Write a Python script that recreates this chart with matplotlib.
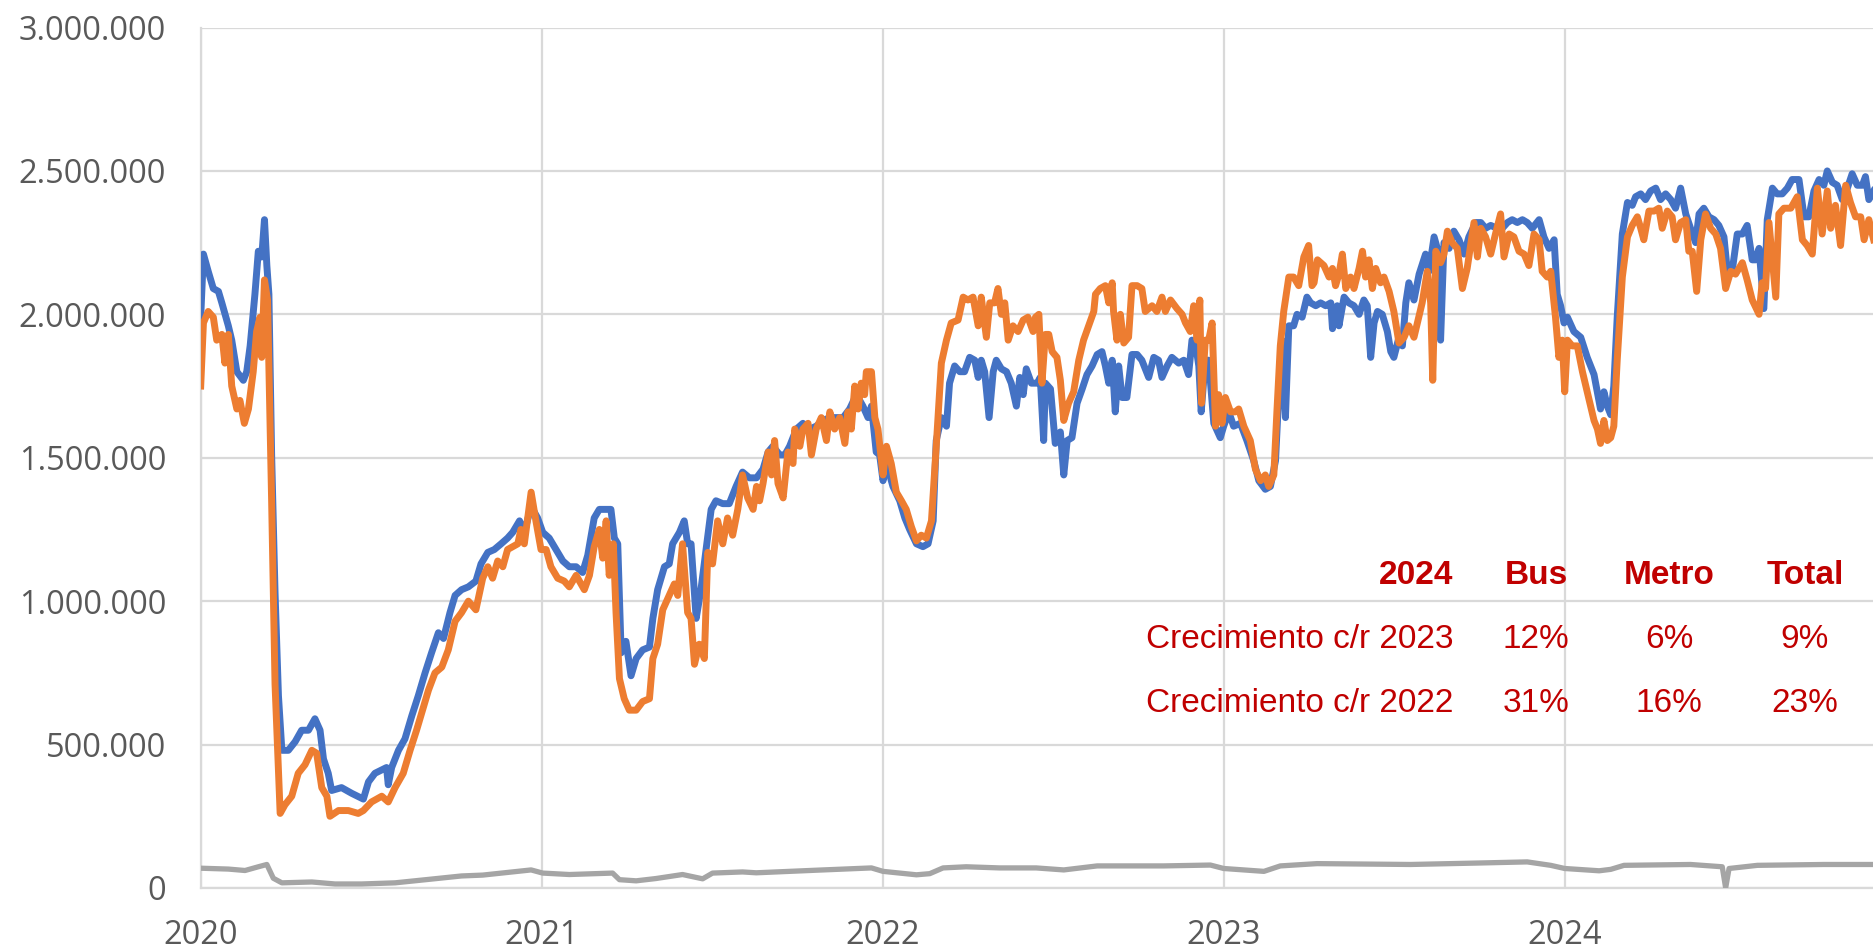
import numpy as np
import matplotlib
matplotlib.use("Agg")
import matplotlib.pyplot as plt
from matplotlib.ticker import FuncFormatter, MultipleLocator

# ---------------------------------------------------------------------------
# Datos. t = año decimal, valores en miles de pasajeros
bus_t = [2020.000, 2020.008, 2020.022, 2020.037, 2020.052, 2020.062, 2020.081, 2020.091, 2020.106, 2020.125,
         2020.135, 2020.145, 2020.159, 2020.169, 2020.179, 2020.187, 2020.194, 2020.200, 2020.208, 2020.218,
         2020.228, 2020.238, 2020.257, 2020.277, 2020.296, 2020.316, 2020.335, 2020.350, 2020.360, 2020.374,
         2020.384, 2020.413, 2020.443, 2020.477, 2020.492, 2020.511, 2020.545, 2020.550, 2020.560, 2020.580,
         2020.599, 2020.619, 2020.638, 2020.658, 2020.677, 2020.697, 2020.712, 2020.731, 2020.746, 2020.765,
         2020.785, 2020.807, 2020.822, 2020.842, 2020.861, 2020.881, 2020.900, 2020.915, 2020.935, 2020.949,
         2020.969, 2020.988, 2021.003, 2021.022, 2021.042, 2021.062, 2021.081, 2021.101, 2021.120, 2021.135,
         2021.154, 2021.169, 2021.189, 2021.203, 2021.213, 2021.223, 2021.233, 2021.247, 2021.262, 2021.277,
         2021.296, 2021.316, 2021.326, 2021.340, 2021.360, 2021.374, 2021.384, 2021.404, 2021.418, 2021.428,
         2021.438, 2021.453, 2021.467, 2021.482, 2021.497, 2021.511, 2021.531, 2021.550, 2021.570, 2021.589,
         2021.609, 2021.630, 2021.649, 2021.664, 2021.678, 2021.698, 2021.713, 2021.727, 2021.747, 2021.766,
         2021.786, 2021.805, 2021.825, 2021.845, 2021.864, 2021.884, 2021.903, 2021.923, 2021.942, 2021.957,
         2021.967, 2021.981, 2021.991, 2022.001, 2022.011, 2022.030, 2022.050, 2022.065, 2022.079, 2022.099,
         2022.118, 2022.133, 2022.148, 2022.157, 2022.172, 2022.187, 2022.196, 2022.211, 2022.226, 2022.240,
         2022.255, 2022.270, 2022.280, 2022.289, 2022.299, 2022.312, 2022.324, 2022.333, 2022.348, 2022.363,
         2022.377, 2022.392, 2022.402, 2022.412, 2022.421, 2022.436, 2022.453, 2022.462, 2022.472, 2022.477,
         2022.492, 2022.506, 2022.521, 2022.531, 2022.541, 2022.555, 2022.570, 2022.585, 2022.599, 2022.614,
         2022.629, 2022.643, 2022.653, 2022.663, 2022.673, 2022.682, 2022.692, 2022.702, 2022.716, 2022.731,
         2022.746, 2022.760, 2022.780, 2022.795, 2022.809, 2022.819, 2022.834, 2022.848, 2022.868, 2022.883,
         2022.897, 2022.907, 2022.917, 2022.927, 2022.934, 2022.946, 2022.956, 2022.971, 2022.990, 2023.000,
         2023.015, 2023.029, 2023.049, 2023.068, 2023.088, 2023.103, 2023.122, 2023.137, 2023.152, 2023.161,
         2023.171, 2023.181, 2023.191, 2023.205, 2023.215, 2023.230, 2023.244, 2023.255, 2023.270, 2023.284,
         2023.299, 2023.314, 2023.319, 2023.333, 2023.338, 2023.353, 2023.367, 2023.382, 2023.397, 2023.411,
         2023.421, 2023.431, 2023.441, 2023.451, 2023.465, 2023.480, 2023.490, 2023.499, 2023.514, 2023.524,
         2023.534, 2023.543, 2023.558, 2023.573, 2023.592, 2023.602, 2023.617, 2023.631, 2023.636, 2023.646,
         2023.661, 2023.675, 2023.690, 2023.705, 2023.719, 2023.739, 2023.754, 2023.768, 2023.783, 2023.802,
         2023.817, 2023.832, 2023.846, 2023.861, 2023.876, 2023.890, 2023.905, 2023.925, 2023.939, 2023.954,
         2023.969, 2023.978, 2023.988, 2023.998, 2024.008, 2024.027, 2024.047, 2024.066, 2024.086, 2024.105,
         2024.115, 2024.125, 2024.135, 2024.144, 2024.154, 2024.169, 2024.184, 2024.198, 2024.208, 2024.223,
         2024.237, 2024.252, 2024.267, 2024.281, 2024.296, 2024.311, 2024.325, 2024.340, 2024.355, 2024.369,
         2024.384, 2024.394, 2024.408, 2024.423, 2024.438, 2024.452, 2024.467, 2024.477, 2024.491, 2024.506,
         2024.521, 2024.535, 2024.550, 2024.560, 2024.570, 2024.584, 2024.594, 2024.609, 2024.623, 2024.638,
         2024.653, 2024.667, 2024.687, 2024.702, 2024.716, 2024.731, 2024.746, 2024.760, 2024.770, 2024.785,
         2024.799, 2024.814, 2024.829, 2024.843, 2024.858, 2024.873, 2024.882, 2024.892, 2024.906]
bus_v = [1990, 2210, 2150, 2090, 2080, 2040, 1960, 1910, 1800, 1770,
         1800, 1890, 2070, 2220, 2200, 2330, 2170, 2070, 1510, 1030,
         670, 480, 480, 510, 550, 550, 590, 550, 450, 400,
         340, 350, 330, 310, 370, 400, 420, 360, 420, 480,
         520, 600, 670, 750, 820, 890, 870, 960, 1020, 1040,
         1050, 1070, 1130, 1170, 1180, 1200, 1220, 1240, 1280, 1240,
         1330, 1290, 1240, 1220, 1180, 1140, 1120, 1120, 1100, 1160,
         1290, 1320, 1320, 1320, 1220, 1200, 820, 860, 740, 800,
         830, 840, 940, 1040, 1120, 1130, 1200, 1240, 1280, 1200,
         1200, 940, 1040, 1180, 1320, 1350, 1340, 1340, 1400, 1450,
         1430, 1430, 1460, 1520, 1540, 1510, 1510, 1540, 1600, 1620,
         1600, 1610, 1630, 1640, 1640, 1640, 1670, 1720, 1680, 1640,
         1680, 1520, 1510, 1420, 1480, 1400, 1350, 1290, 1250, 1200,
         1190, 1200, 1280, 1560, 1640, 1610, 1760, 1820, 1800, 1800,
         1850, 1840, 1780, 1840, 1800, 1640, 1800, 1840, 1810, 1800,
         1760, 1680, 1780, 1720, 1810, 1760, 1760, 1780, 1560, 1760,
         1740, 1550, 1590, 1440, 1560, 1570, 1690, 1740, 1790, 1820,
         1860, 1870, 1820, 1760, 1840, 1660, 1820, 1710, 1710, 1860,
         1860, 1840, 1780, 1850, 1840, 1780, 1820, 1850, 1830, 1840,
         1790, 1910, 1900, 1820, 1660, 1840, 1840, 1620, 1570, 1610,
         1660, 1610, 1620, 1560, 1490, 1420, 1390, 1400, 1490, 1710,
         1910, 1640, 1960, 1960, 2000, 1990, 2060, 2040, 2030, 2040,
         2030, 2040, 1950, 2030, 1960, 2060, 2040, 2030, 2000, 2050,
         2030, 1850, 1970, 2010, 2000, 1940, 1870, 1850, 1920, 1890,
         2040, 2110, 2050, 2140, 2210, 2150, 2270, 2210, 1910, 2250,
         2230, 2290, 2260, 2210, 2270, 2320, 2320, 2300, 2310, 2300,
         2300, 2320, 2330, 2320, 2330, 2320, 2300, 2330, 2270, 2230,
         2260, 2070, 2030, 1970, 1990, 1940, 1920, 1850, 1790, 1670,
         1730, 1680, 1650, 1750, 1990, 2280, 2390, 2380, 2410, 2420,
         2400, 2430, 2440, 2400, 2420, 2400, 2370, 2440, 2350, 2300,
         2250, 2350, 2370, 2340, 2330, 2310, 2270, 2150, 2150, 2280,
         2280, 2310, 2190, 2190, 2230, 2020, 2330, 2440, 2420, 2420,
         2440, 2470, 2470, 2340, 2340, 2430, 2470, 2450, 2500, 2460,
         2450, 2400, 2440, 2490, 2450, 2450, 2480, 2400, 2430]

metro_t = [2020.000, 2020.008, 2020.022, 2020.037, 2020.047, 2020.062, 2020.071, 2020.081, 2020.091, 2020.106,
           2020.115, 2020.128, 2020.140, 2020.154, 2020.164, 2020.174, 2020.179, 2020.187, 2020.196, 2020.208,
           2020.218, 2020.233, 2020.247, 2020.267, 2020.286, 2020.306, 2020.326, 2020.340, 2020.355, 2020.370,
           2020.379, 2020.404, 2020.433, 2020.462, 2020.477, 2020.501, 2020.531, 2020.550, 2020.570, 2020.594,
           2020.614, 2020.633, 2020.648, 2020.668, 2020.687, 2020.707, 2020.726, 2020.746, 2020.765, 2020.785,
           2020.807, 2020.827, 2020.842, 2020.856, 2020.871, 2020.886, 2020.900, 2020.915, 2020.930, 2020.939,
           2020.949, 2020.969, 2020.983, 2020.998, 2021.013, 2021.027, 2021.047, 2021.066, 2021.081, 2021.101,
           2021.125, 2021.140, 2021.154, 2021.169, 2021.179, 2021.189, 2021.198, 2021.210, 2021.218, 2021.228,
           2021.242, 2021.257, 2021.277, 2021.296, 2021.316, 2021.326, 2021.340, 2021.355, 2021.374, 2021.389,
           2021.399, 2021.413, 2021.428, 2021.438, 2021.448, 2021.462, 2021.477, 2021.487, 2021.501, 2021.516,
           2021.531, 2021.545, 2021.560, 2021.575, 2021.589, 2021.604, 2021.620, 2021.630, 2021.639, 2021.649,
           2021.664, 2021.674, 2021.683, 2021.693, 2021.708, 2021.722, 2021.737, 2021.742, 2021.757, 2021.766,
           2021.781, 2021.791, 2021.805, 2021.820, 2021.835, 2021.845, 2021.859, 2021.874, 2021.889, 2021.898,
           2021.908, 2021.918, 2021.928, 2021.937, 2021.947, 2021.952, 2021.967, 2021.977, 2021.986, 2022.001,
           2022.011, 2022.025, 2022.040, 2022.055, 2022.069, 2022.084, 2022.099, 2022.113, 2022.128, 2022.143,
           2022.157, 2022.172, 2022.187, 2022.201, 2022.221, 2022.236, 2022.250, 2022.265, 2022.280, 2022.289,
           2022.304, 2022.314, 2022.328, 2022.338, 2022.348, 2022.358, 2022.368, 2022.382, 2022.397, 2022.412,
           2022.426, 2022.441, 2022.448, 2022.458, 2022.467, 2022.477, 2022.487, 2022.497, 2022.511, 2022.521,
           2022.531, 2022.545, 2022.560, 2022.575, 2022.589, 2022.604, 2022.619, 2022.624, 2022.638, 2022.653,
           2022.663, 2022.673, 2022.677, 2022.687, 2022.697, 2022.707, 2022.721, 2022.731, 2022.746, 2022.760,
           2022.770, 2022.790, 2022.804, 2022.819, 2022.829, 2022.844, 2022.863, 2022.878, 2022.888, 2022.902,
           2022.912, 2022.922, 2022.930, 2022.935, 2022.946, 2022.956, 2022.966, 2022.976, 2022.985, 2022.995,
           2023.005, 2023.020, 2023.034, 2023.044, 2023.059, 2023.078, 2023.093, 2023.108, 2023.122, 2023.132,
           2023.147, 2023.156, 2023.166, 2023.176, 2023.191, 2023.205, 2023.220, 2023.235, 2023.249, 2023.259,
           2023.265, 2023.275, 2023.294, 2023.309, 2023.319, 2023.328, 2023.338, 2023.348, 2023.358, 2023.372,
           2023.382, 2023.397, 2023.407, 2023.416, 2023.426, 2023.436, 2023.446, 2023.460, 2023.470, 2023.485,
           2023.499, 2023.514, 2023.529, 2023.543, 2023.558, 2023.568, 2023.582, 2023.597, 2023.607, 2023.613,
           2023.622, 2023.636, 2023.646, 2023.656, 2023.670, 2023.685, 2023.700, 2023.714, 2023.734, 2023.744,
           2023.754, 2023.768, 2023.783, 2023.797, 2023.812, 2023.822, 2023.837, 2023.851, 2023.866, 2023.881,
           2023.895, 2023.910, 2023.925, 2023.934, 2023.949, 2023.959, 2023.973, 2023.983, 2023.993, 2024.000,
           2024.008, 2024.022, 2024.037, 2024.052, 2024.066, 2024.086, 2024.096, 2024.105, 2024.115, 2024.125,
           2024.135, 2024.144, 2024.154, 2024.169, 2024.184, 2024.198, 2024.213, 2024.223, 2024.232, 2024.247,
           2024.262, 2024.276, 2024.286, 2024.301, 2024.315, 2024.325, 2024.340, 2024.355, 2024.364, 2024.374,
           2024.387, 2024.399, 2024.413, 2024.428, 2024.443, 2024.457, 2024.472, 2024.487, 2024.501, 2024.521,
           2024.535, 2024.550, 2024.570, 2024.579, 2024.589, 2024.599, 2024.619, 2024.628, 2024.643, 2024.663,
           2024.682, 2024.697, 2024.711, 2024.726, 2024.741, 2024.755, 2024.770, 2024.780, 2024.794, 2024.809,
           2024.824, 2024.838, 2024.853, 2024.868, 2024.878, 2024.892, 2024.906]
metro_v = [1750, 1970, 2010, 1990, 1910, 1930, 1830, 1930, 1750, 1670,
           1700, 1620, 1670, 1800, 1940, 1990, 1850, 2120, 2050, 1350,
           710, 260, 290, 320, 400, 430, 480, 470, 350, 320,
           250, 270, 270, 260, 270, 300, 320, 300, 350, 400,
           480, 550, 610, 690, 750, 770, 830, 930, 960, 1000,
           970, 1080, 1120, 1080, 1140, 1120, 1180, 1190, 1200, 1250,
           1200, 1380, 1280, 1180, 1180, 1120, 1080, 1070, 1050, 1090,
           1040, 1090, 1190, 1250, 1150, 1280, 1090, 1200, 960, 730,
           660, 620, 620, 650, 660, 800, 850, 970, 1020, 1060,
           1020, 1200, 960, 940, 780, 850, 800, 1170, 1130, 1280,
           1200, 1290, 1230, 1320, 1440, 1360, 1320, 1400, 1350, 1410,
           1520, 1440, 1560, 1410, 1360, 1520, 1480, 1600, 1540, 1600,
           1620, 1510, 1600, 1640, 1560, 1660, 1600, 1640, 1550, 1660,
           1600, 1750, 1670, 1760, 1720, 1800, 1800, 1640, 1600, 1440,
           1540, 1480, 1380, 1350, 1320, 1260, 1210, 1230, 1220, 1280,
           1540, 1830, 1910, 1970, 1980, 2060, 2050, 2060, 1960, 2060,
           1920, 2040, 2040, 2090, 2000, 2040, 1910, 1960, 1940, 1980,
           1990, 1940, 1990, 2000, 1760, 1930, 1930, 1870, 1850, 1770,
           1630, 1690, 1730, 1840, 1910, 1960, 2010, 2070, 2090, 2100,
           2040, 2110, 2010, 1910, 2000, 1900, 1920, 2100, 2100, 2090,
           2010, 2030, 2010, 2060, 2010, 2050, 2020, 2000, 1970, 1940,
           2030, 1910, 2050, 1690, 1910, 1910, 1970, 1610, 1720, 1620,
           1710, 1660, 1660, 1670, 1610, 1560, 1460, 1420, 1440, 1400,
           1440, 1660, 1890, 2010, 2130, 2130, 2100, 2200, 2240, 2100,
           2110, 2190, 2170, 2130, 2160, 2100, 2140, 2210, 2090, 2130,
           2090, 2160, 2220, 2130, 2190, 2090, 2160, 2110, 2130, 2080,
           2010, 1900, 1920, 1960, 1920, 1970, 2040, 2150, 2040, 1770,
           2220, 2180, 2210, 2290, 2250, 2230, 2090, 2160, 2320, 2200,
           2300, 2270, 2210, 2280, 2350, 2200, 2280, 2270, 2220, 2210,
           2170, 2280, 2260, 2150, 2130, 2150, 1990, 1850, 1910, 1730,
           1910, 1890, 1890, 1800, 1730, 1630, 1600, 1550, 1630, 1560,
           1570, 1610, 1840, 2130, 2270, 2310, 2340, 2300, 2260, 2360,
           2360, 2370, 2300, 2360, 2340, 2260, 2320, 2330, 2220, 2220,
           2080, 2260, 2350, 2300, 2280, 2230, 2090, 2150, 2140, 2180,
           2120, 2050, 2000, 2110, 2090, 2320, 2060, 2350, 2370, 2370,
           2410, 2260, 2240, 2210, 2440, 2280, 2430, 2300, 2380, 2240,
           2450, 2390, 2340, 2340, 2260, 2330, 2260]

otros_t = [2020.000, 2020.081, 2020.130, 2020.169, 2020.194, 2020.213, 2020.238, 2020.326, 2020.394, 2020.472,
           2020.570, 2020.668, 2020.765, 2020.827, 2020.969, 2021.003, 2021.081, 2021.208, 2021.228, 2021.277,
           2021.335, 2021.413, 2021.472, 2021.501, 2021.589, 2021.629, 2021.805, 2021.967, 2022.001, 2022.099,
           2022.138, 2022.177, 2022.245, 2022.343, 2022.450, 2022.531, 2022.629, 2022.824, 2022.961, 2023.000,
           2023.118, 2023.166, 2023.274, 2023.548, 2023.744, 2023.890, 2023.959, 2024.000, 2024.101, 2024.135,
           2024.174, 2024.369, 2024.462, 2024.472, 2024.482, 2024.565, 2024.760, 2024.906]
otros_v = [69, 66, 61, 74, 82, 34, 18, 21, 14, 14,
           18, 30, 42, 45, 63, 52, 47, 52, 29, 25,
           33, 47, 32, 52, 56, 53, 62, 70, 58, 46,
           50, 70, 74, 70, 70, 63, 77, 77, 80, 68,
           58, 77, 85, 82, 87, 91, 79, 68, 60, 65,
           79, 82, 74, 0, 68, 79, 82, 82]

years = [2020, 2021, 2022, 2023, 2024]

# tabla de crecimiento 2024
tabla_cols = ["Bus", "Metro", "Total"]
tabla_filas = ["Crecimiento c/r 2023", "Crecimiento c/r 2022"]
tabla_vals = [["12%", "6%", "9%"],
              ["31%", "16%", "23%"]]

# ---------------------------------------------------------------------------
W, H = 1873, 952
fig = plt.figure(figsize=(W / 100, H / 100), dpi=100)
ax = fig.add_axes([200.7 / W, 1 - 888 / H, 1 - 200.7 / W, (888 - 27.5) / H])

grid_c = "#D9D9D9"
ax.plot(otros_t, np.array(otros_v) * 1000, color="#A5A5A5", lw=3.8, zorder=3)
ax.plot(bus_t, np.array(bus_v) * 1000, color="#4472C4", lw=5.0, zorder=3)
ax.plot(metro_t, np.array(metro_v) * 1000, color="#ED7D31", lw=5.0, zorder=4)

ax.set_xlim(2020, 2020 + (W - 200.7) / 341.0)
ax.set_ylim(0, 3000000)
ax.set_xticks(years)
ax.set_xticklabels([str(y) for y in years])
ax.yaxis.set_major_locator(MultipleLocator(500000))
ax.yaxis.set_major_formatter(FuncFormatter(lambda v, p: f"{int(v):,}".replace(",", ".")))

ax.grid(True, color=grid_c, lw=1.6, zorder=0)
ax.set_axisbelow(True)
for s in ["top", "right"]:
    ax.spines[s].set_visible(False)
for s in ["left", "bottom"]:
    ax.spines[s].set_color(grid_c)
    ax.spines[s].set_linewidth(1.6)
ax.tick_params(axis="both", length=0, labelsize=23.5, colors="#595959")
ax.tick_params(axis="y", pad=25)
ax.tick_params(axis="x", pad=22)
for lab in ax.get_xticklabels() + ax.get_yticklabels():
    lab.set_family("Open Sans")

# tabla en rojo
rojo = "#C00000"
fnt = "Liberation Sans"
x_lab = 1453.7 / W
x_cols = [1536 / W, 1669 / W, 1805 / W]
y_head = 1 - 575 / H
y_rows = [1 - 640 / H, 1 - 703 / H]
fig.text(x_lab, y_head, "2024", color=rojo, fontsize=24, fontweight="bold", family=fnt, ha="right", va="center")
for xc, col in zip(x_cols, tabla_cols):
    fig.text(xc, y_head, col, color=rojo, fontsize=24, fontweight="bold", family=fnt, ha="center", va="center")
for yr, fila, vals in zip(y_rows, tabla_filas, tabla_vals):
    fig.text(x_lab, yr, fila, color=rojo, fontsize=24, family=fnt, ha="right", va="center")
    for xc, v in zip(x_cols, vals):
        fig.text(xc, yr, v, color=rojo, fontsize=24, family=fnt, ha="center", va="center")

fig.savefig("out.png", dpi=100)
